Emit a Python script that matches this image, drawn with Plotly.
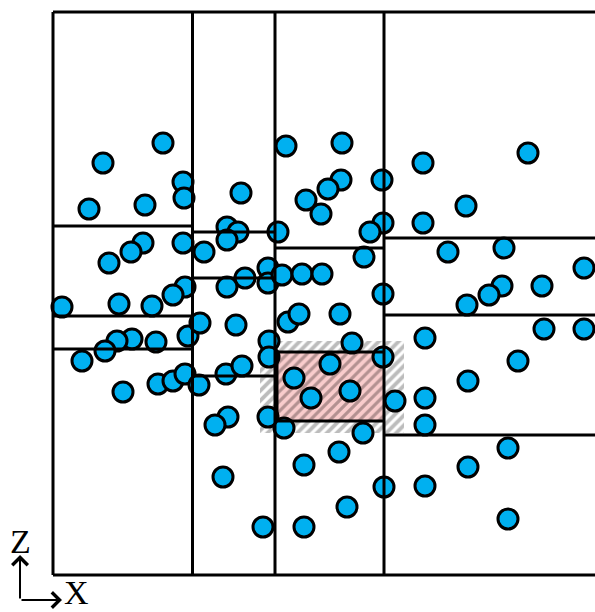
import plotly.graph_objects as go

# Sample positions (x, z) in the cross-section, grouped by column of the partition
x_col1 = [110, 50, 130, 131, 36, 92, 90, 78, 56, 130, 132, 120, 9, 66, 99,
          135, 103, 79, 64, 52, 29, 70, 105, 120, 132, 146]
z_col1 = [432, 412, 393, 377, 366, 370, 332, 323, 312, 332, 288, 280, 268, 271, 269,
          239, 233, 236, 234, 224, 214, 183, 191, 194, 201, 190]

x_col2 = [188, 174, 185, 174, 151, 225, 192, 174, 215, 215, 229, 147, 183,
          173, 189, 216, 216, 175, 162, 215, 231, 170, 210]
z_col2 = [382, 348, 343, 335, 323, 343, 297, 288, 307, 292, 300, 252, 250,
          201, 209, 234, 218, 158, 150, 158, 147, 98, 48]

x_col3 = [233, 289, 288, 275, 253, 268, 329, 330, 317, 311, 249, 269, 330, 235, 246,
          287, 299, 330, 277, 241, 258, 297, 342, 310, 286, 251, 331, 294, 251]
z_col3 = [429, 432, 395, 386, 375, 361, 395, 352, 343, 318, 301, 301, 281, 253, 261,
          261, 232, 218, 211, 197, 177, 184, 174, 142, 123, 110, 88, 68, 48]

x_col4 = [370, 475, 413, 370, 395, 451, 531, 449, 436, 489, 414, 491, 531, 372,
          465, 415, 372, 372, 455, 415, 372, 455]
z_col4 = [412, 422, 369, 352, 323, 327, 307, 289, 280, 289, 270, 246, 246, 237,
          214, 194, 177, 150, 127, 108, 89, 56]

# Domain extent
X_MAX = 542
Z_MAX = 563

# Vertical cuts between columns
x_cuts = [139.5, 222, 331]
# Horizontal cuts inside each column: (x_start, x_end, [z levels])
col_cuts = [
    (0, 139.5, [349, 259, 226]),
    (139.5, 222, [343, 297, 199]),
    (222, 331, [327]),
    (331, X_MAX + 10, [337, 260, 140]),
]

# Highlighted cell and its surrounding halo
cell_x = [224, 331]
cell_z = [154, 223]
halo_x = [207, 351]
halo_z = [142, 234]

fig = go.Figure()

# Hatched halo around the highlighted cell
fig.add_trace(go.Scatter(
    x=[halo_x[0], halo_x[1], halo_x[1], halo_x[0], halo_x[0]],
    y=[halo_z[0], halo_z[0], halo_z[1], halo_z[1], halo_z[0]],
    mode="lines", line=dict(width=0), fill="toself",
    fillcolor="white",
    fillpattern=dict(shape="/", bgcolor="white", fgcolor="#7a7a7a",
                     size=7, solidity=0.55),
    hoverinfo="skip", showlegend=False,
))

# Highlighted cell
fig.add_trace(go.Scatter(
    x=[cell_x[0], cell_x[1], cell_x[1], cell_x[0], cell_x[0]],
    y=[cell_z[0], cell_z[0], cell_z[1], cell_z[1], cell_z[0]],
    mode="lines", line=dict(width=0), fill="toself",
    fillcolor="#f9cccc",
    fillpattern=dict(shape="/", bgcolor="#f9cccc", fgcolor="#6e5555",
                     size=7, solidity=0.45),
    hoverinfo="skip", showlegend=False,
))

# Sample points
fig.add_trace(go.Scatter(
    x=x_col1 + x_col2 + x_col3 + x_col4,
    y=z_col1 + z_col2 + z_col3 + z_col4,
    mode="markers",
    marker=dict(size=20, color="#00b0f0", line=dict(color="black", width=3)),
    hoverinfo="skip", showlegend=False,
))

line_style = dict(color="black", width=3)
shapes = []
# Outer frame (left, top, bottom)
shapes.append(dict(type="line", x0=0, x1=0, y0=0, y1=Z_MAX, line=line_style))
shapes.append(dict(type="line", x0=0, x1=X_MAX + 10, y0=Z_MAX, y1=Z_MAX, line=line_style))
shapes.append(dict(type="line", x0=0, x1=X_MAX + 10, y0=0, y1=0, line=line_style))
for xc in x_cuts:
    shapes.append(dict(type="line", x0=xc, x1=xc, y0=0, y1=Z_MAX, line=line_style))
for xs, xe, levels in col_cuts:
    for zc in levels:
        shapes.append(dict(type="line", x0=xs, x1=xe, y0=zc, y1=zc, line=line_style))
# Highlighted cell border
for zc in cell_z:
    shapes.append(dict(type="line", x0=cell_x[0], x1=cell_x[1], y0=zc, y1=zc, line=line_style))
shapes.append(dict(type="line", x0=cell_x[0], x1=cell_x[0], y0=cell_z[0], y1=cell_z[1], line=line_style))

# Axis indicator (paper coordinates)
serif = dict(family="Liberation Serif", size=34, color="black")
annotations = [
    dict(xref="paper", yref="paper", x=-0.0531, y=0.042, ax=0, ay=45,
         text="", showarrow=True, arrowhead=4, arrowsize=1.5, arrowwidth=2,
         arrowcolor="black"),
    dict(xref="paper", yref="paper", x=0.0238, y=-0.0368, ax=-42, ay=0,
         text="", showarrow=True, arrowhead=4, arrowsize=1.5, arrowwidth=2,
         arrowcolor="black"),
    dict(xref="paper", yref="paper", x=-0.0522, y=0.0665, text="Z",
         showarrow=False, font=serif, xanchor="center", yanchor="middle"),
    dict(xref="paper", yref="paper", x=0.0504, y=-0.024, text="X",
         showarrow=False, font=serif, xanchor="center", yanchor="middle"),
]

fig.update_layout(
    width=595, height=612,
    margin=dict(l=49, r=0, t=8, b=33, autoexpand=False),
    paper_bgcolor="white", plot_bgcolor="white",
    xaxis=dict(range=[-4, X_MAX], visible=False, fixedrange=True),
    yaxis=dict(range=[-4, Z_MAX + 4], visible=False, fixedrange=True),
    shapes=shapes, annotations=annotations,
    showlegend=False,
)

fig.write_html("out.html")
